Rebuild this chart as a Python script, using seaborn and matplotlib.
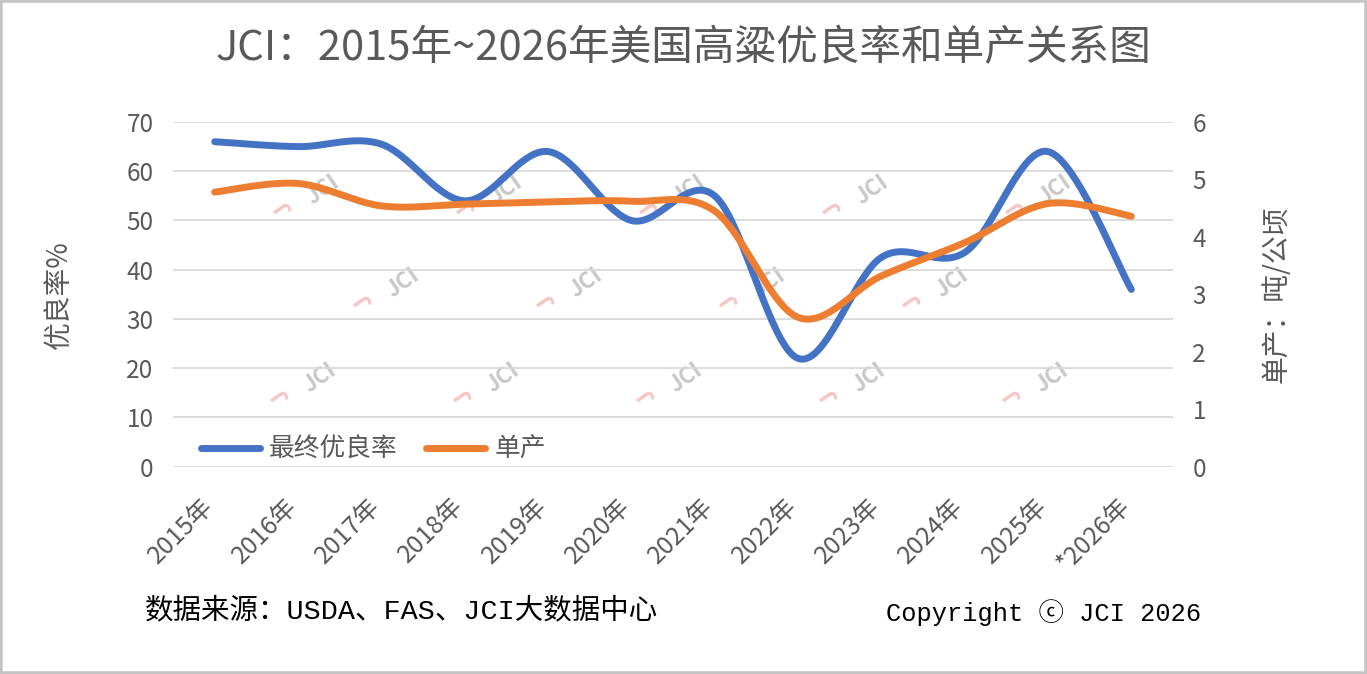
import numpy as np
import pandas as pd
import matplotlib
matplotlib.use("Agg")
import matplotlib.pyplot as plt
from matplotlib.lines import Line2D
from matplotlib.patches import Rectangle
from matplotlib.transforms import ScaledTranslation
import seaborn as sns

# data
years = ["2015年", "2016年", "2017年", "2018年", "2019年", "2020年",
         "2021年", "2022年", "2023年", "2024年", "2025年", "*2026年"]
good_rate = [66, 65, 65.5, 54, 64, 50, 55, 22, 42.5, 43.5, 64, 36]
yield_t_ha = [4.78, 4.93, 4.54, 4.57, 4.61, 4.62, 4.45, 2.6, 3.32, 3.9, 4.58, 4.36]

title = "JCI：2015年~2026年美国高粱优良率和单产关系图"
source_note = "数据来源：USDA、FAS、JCI大数据中心"
copyright_note = "Copyright ⓒ JCI 2026"

BLUE = "#4472C4"
ORANGE = "#ED7D31"
GREY_TXT = "#595959"
W, H = 1367, 674


def smooth(xs, ys, n=40):
    """Excel-style smoothed line: cubic bezier with catmull-rom control points."""
    xs = np.asarray(xs, float)
    ys = np.asarray(ys, float)
    px = np.concatenate([[xs[0]], xs, [xs[-1]]])
    py = np.concatenate([[ys[0]], ys, [ys[-1]]])
    out_x, out_y = [], []
    t = np.linspace(0, 1, n)
    for i in range(1, len(px) - 2):
        p0x, p1x, p2x, p3x = px[i - 1], px[i], px[i + 1], px[i + 2]
        p0y, p1y, p2y, p3y = py[i - 1], py[i], py[i + 1], py[i + 2]
        c1x, c1y = p1x + (p2x - p0x) / 6, p1y + (p2y - p0y) / 6
        c2x, c2y = p2x - (p3x - p1x) / 6, p2y - (p3y - p1y) / 6
        bx = (1 - t) ** 3 * p1x + 3 * (1 - t) ** 2 * t * c1x + 3 * (1 - t) * t ** 2 * c2x + t ** 3 * p2x
        by = (1 - t) ** 3 * p1y + 3 * (1 - t) ** 2 * t * c1y + 3 * (1 - t) * t ** 2 * c2y + t ** 3 * p2y
        out_x.extend(bx)
        out_y.extend(by)
    return np.array(out_x), np.array(out_y)


sns.set_theme(style="white")
plt.rcParams["font.family"] = ["Noto Sans CJK SC", "DejaVu Sans"]
plt.rcParams["axes.unicode_minus"] = False

fig = plt.figure(figsize=(W / 100, H / 100), dpi=100)
fig.patch.set_facecolor("white")

ax = fig.add_axes([173 / W, (H - 466.7) / H, 1000 / W, 344.7 / H])
ax2 = ax.twinx()
for a in (ax, ax2):
    a.patch.set_visible(False)
    for s in a.spines.values():
        s.set_visible(False)

xi = np.arange(len(years))
bx, by = smooth(xi, good_rate)
ox, oy = smooth(xi, yield_t_ha)
blue_df = pd.DataFrame({"x": bx, "y": by})
orange_df = pd.DataFrame({"x": ox, "y": oy})

sns.lineplot(data=blue_df, x="x", y="y", ax=ax, color=BLUE, linewidth=5,
             sort=False, estimator=None, solid_capstyle="round")
sns.lineplot(data=orange_df, x="x", y="y", ax=ax2, color=ORANGE, linewidth=5,
             sort=False, estimator=None, solid_capstyle="round")

ax.set_xlim(-0.5, len(years) - 0.5)
ax.set_ylim(0, 70)
ax2.set_ylim(0, 6)
ax.set_yticks(range(0, 71, 10))
ax2.set_yticks(range(0, 7))
ax.grid(axis="y", color="#D9D9D9", linewidth=1.3)
ax.grid(axis="x", visible=False)
ax2.grid(False)

ax.set_xticks(xi)
ax.set_xticklabels(years, rotation=45, ha="right", rotation_mode="anchor")
ax.tick_params(axis="x", length=0, pad=19, labelsize=18, labelcolor=GREY_TXT)
ax.tick_params(axis="y", length=0, pad=14, labelsize=17.5, labelcolor=GREY_TXT)
ax2.tick_params(axis="y", length=0, pad=14, labelsize=17.5, labelcolor=GREY_TXT)
shift = ScaledTranslation(-14 / 100, 0, fig.dpi_scale_trans)
for lab in ax.get_xticklabels():
    lab.set_transform(lab.get_transform() + shift)

ax.set_xlabel("")
ax.set_ylabel("优良率%", fontsize=20, color=GREY_TXT, labelpad=38)
ax2.set_ylabel("单产：吨/公顷", fontsize=20, color=GREY_TXT, labelpad=40)

handles = [Line2D([0], [0], color=BLUE, lw=5, solid_capstyle="round"),
           Line2D([0], [0], color=ORANGE, lw=5, solid_capstyle="round")]
leg = ax2.legend(handles, ["最终优良率", "单产"], loc="lower left",
                 bbox_to_anchor=(0.01, -0.04), ncol=2, frameon=False,
                 fontsize=18.5, handlelength=2.3, handletextpad=0.35,
                 columnspacing=1.1, borderpad=0.2)
for t in leg.get_texts():
    t.set_color(GREY_TXT)

fig.text(683 / W, 1 - 49 / H, title, ha="center", va="center",
         fontsize=30, color=GREY_TXT, fontweight="light")

mono = ["Liberation Mono", "Noto Sans CJK SC", "DejaVu Sans"]
fig.text(145 / W, 1 - 611 / H, source_note, ha="left", va="center",
         fontsize=20.5, color="black", family=mono)
fig.text(1201 / W, 1 - 613 / H, copyright_note, ha="right", va="center",
         fontsize=18.3, color="black", family=mono)

# faint JCI watermarks behind the chart
marks = [(323, 190), (506, 190), (689, 190), (872, 190), (1055, 190),
         (403, 283), (586, 283), (769, 283), (952, 283),
         (320, 378), (503, 378), (686, 378), (869, 378), (1052, 378)]
for mx, my in marks:
    fig.text(mx / W, 1 - my / H, "JCI", ha="center", va="center", fontsize=16,
             color="#c8c8c8", rotation=35, zorder=-1, fontweight="bold")
    fig.text((mx - 38) / W, 1 - (my + 18) / H, "J", ha="center", va="center",
             fontsize=16, color="#f6c4c4", rotation=125, zorder=-1, fontweight="bold")

fig.add_artist(Rectangle((0, 0), 1, 1, transform=fig.transFigure, fill=False,
                         edgecolor="#c4c4c4", linewidth=4))

fig.savefig("out.png", dpi=100, facecolor="white")
